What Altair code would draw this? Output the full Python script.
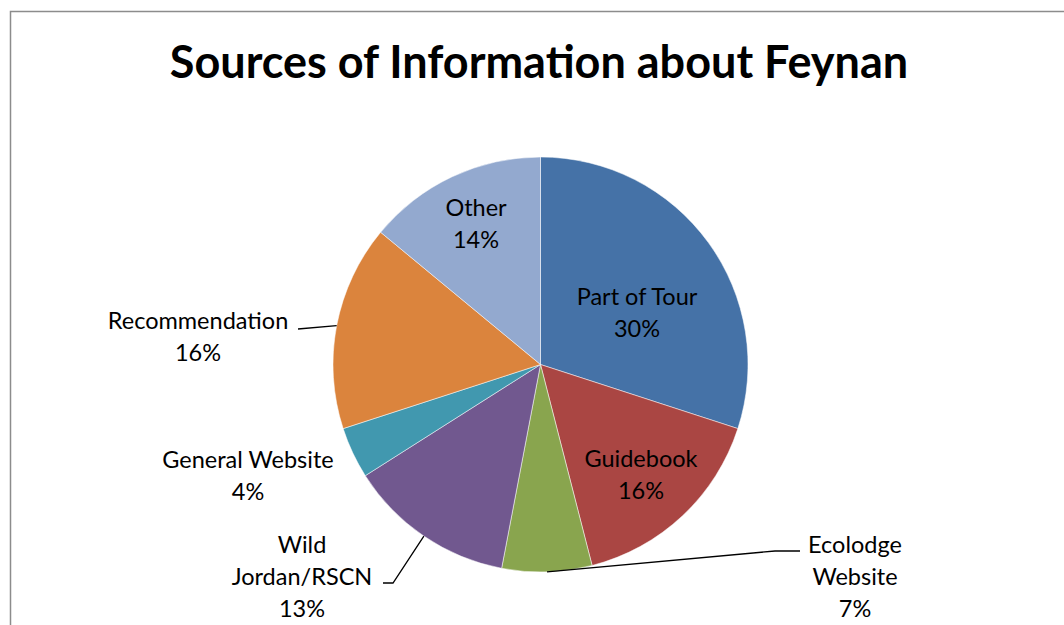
import altair as alt
import numpy as np
import pandas as pd

# Survey shares (percent) per information source, clockwise from 12 o'clock
categories = ["Part of Tour", "Guidebook", "Ecolodge Website", "Wild Jordan/RSCN",
              "General Website", "Recommendation", "Other"]
shares = [30, 16, 7, 13, 4, 16, 14]
colors = ["#4572A7", "#AA4643", "#89A54E", "#71588F", "#4198AF", "#DB843D", "#93A9CF"]

# Wrapped label text (percent line is appended from the shares)
label_lines = [["Part of Tour"], ["Guidebook"], ["Ecolodge", "Website"], ["Wild", "Jordan/RSCN"],
               ["General Website"], ["Recommendation"], ["Other"]]

# Layout
W, H = 1064, 625
CX, CY, R = 540.5, 364.5, 207.5
FONT = "Lato"
label_x = [637, 641, 855, 302, 248, 198, 476]
label_y = [298, 460, 546, 546, 461, 322, 209]   # middle of each label's first line
# label-side points of the leader lines; the last point sits on the slice edge
leader_anchor = {
    "Ecolodge Website": [(800, 551), (775, 551)],
    "Wild Jordan/RSCN": [(383, 583), (393, 583)],
    "Recommendation": [(298, 329)],
}

pie_df = pd.DataFrame({"category": categories, "share": shares, "idx": range(len(shares))})

lab_df = pd.DataFrame({
    "category": categories,
    "text": [lines + [f"{s}%"] for lines, s in zip(label_lines, shares)],
    "px": label_x,
    "py": label_y,
})

vals = np.array(shares, dtype=float)
mid = (np.cumsum(vals) - vals / 2) / vals.sum() * 2 * np.pi
rows = []
for i, cat in enumerate(categories):
    if cat not in leader_anchor:
        continue
    pts = list(leader_anchor[cat]) + [(CX + R * np.sin(mid[i]), CY - R * np.cos(mid[i]))]
    for k, (x, y) in enumerate(pts):
        rows.append({"category": cat, "k": k, "px": x, "py": y})
lead_df = pd.DataFrame(rows)

frame = alt.Chart(pd.DataFrame({"a": [0]})).mark_rect(
    fill="white", stroke="#8c8c8c", strokeWidth=1.5
).encode(x=alt.value(10.5), y=alt.value(11.5), x2=alt.value(W + 20), y2=alt.value(H + 20))

title = alt.Chart(pd.DataFrame({"t": ["Sources of Information about Feynan"]})).mark_text(
    font=FONT, fontSize=45, fontWeight="bold", color="black", align="center", baseline="alphabetic"
).encode(text="t:N", x=alt.value(539), y=alt.value(78))

pie = alt.Chart(pie_df).mark_arc(outerRadius=R, stroke="white", strokeWidth=0.5).encode(
    theta=alt.Theta("share:Q", stack=True),
    color=alt.Color("category:N", scale=alt.Scale(domain=categories, range=colors), legend=None),
    order=alt.Order("idx:Q"),
    x=alt.value(CX),
    y=alt.value(CY),
)

leaders = alt.Chart(lead_df).mark_line(color="black", strokeWidth=1.3).encode(
    x=alt.X("px:Q", scale=None, axis=None),
    y=alt.Y("py:Q", scale=None, axis=None),
    detail="category:N",
    order="k:Q",
)

labels = alt.Chart(lab_df).mark_text(
    font=FONT, fontSize=23.5, color="black", align="center", baseline="middle", lineHeight=32
).encode(
    x=alt.X("px:Q", scale=None, axis=None),
    y=alt.Y("py:Q", scale=None, axis=None),
    text="text",
)

chart = alt.layer(frame, title, pie, leaders, labels).properties(
    width=W, height=H, padding=0, autosize="none", background="white"
).configure_view(stroke=None)

chart.save("out.html", embed_options={"renderer": "svg", "actions": False})
